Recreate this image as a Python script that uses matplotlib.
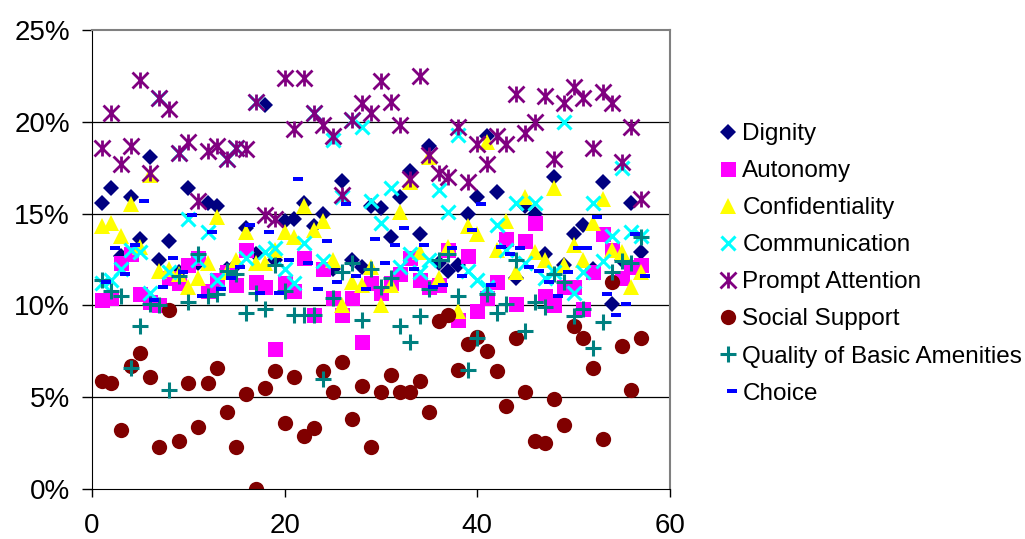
import numpy as np
import matplotlib.pyplot as plt
from matplotlib.path import Path
from matplotlib.ticker import FuncFormatter

plt.rcParams['font.family'] = ['Liberation Sans', 'DejaVu Sans']

# survey item scores (%) for each of the 57 facilities
facility = list(range(1, 58))

dignity = [15.6, 16.4, 12.7, 15.9, 13.6, 18.1, 12.5, 13.5, 11.8, 16.4,
           12.3, 15.6, 15.4, 12.0, 12.2, 14.2, 12.8, 20.9, 12.5, 14.6,
           14.7, 15.6, 14.3, 15.0, 12.0, 16.8, 12.5, 12.1, 15.4, 15.3,
           13.7, 15.9, 17.3, 13.9, 18.7, 12.3, 11.9, 12.2, 15.0, 15.9,
           19.2, 16.2, 13.5, 11.5, 15.4, 15.0, 12.8, 17.0, 12.2, 13.9,
           14.4, 12.0, 16.7, 10.1, 12.5, 15.6, 12.9]
autonomy = [10.3, 10.4, 12.3, 12.8, 10.6, 10.2, 10.0, 11.5, 11.2, 12.2,
            12.6, 10.8, 11.4, 11.8, 11.1, 13.0, 11.3, 11.0, 7.6, 11.2,
            10.8, 12.6, 9.5, 12.0, 10.4, 9.5, 10.4, 8.0, 11.2, 10.7,
            11.2, 11.7, 12.6, 11.4, 11.0, 11.1, 13.0, 9.2, 12.7, 9.7,
            10.4, 11.3, 13.6, 10.1, 13.5, 14.5, 10.5, 10.0, 11.0, 11.0,
            9.8, 11.8, 13.9, 13.0, 11.5, 12.1, 12.2]
confidentiality = [14.3, 14.5, 13.8, 15.5, 13.2, 17.1, 11.9, 12.0, 11.7, 11.0,
                   11.5, 12.3, 14.8, 11.8, 12.5, 14.0, 12.3, 12.3, 13.0, 14.0,
                   13.7, 15.4, 14.1, 14.6, 12.5, 10.0, 11.3, 11.1, 12.1, 10.0,
                   11.1, 15.1, 16.7, 12.9, 18.1, 11.5, 13.2, 9.7, 14.3, 13.9,
                   18.9, 13.0, 14.6, 11.8, 15.9, 12.9, 12.5, 16.4, 12.2, 13.3,
                   12.5, 14.5, 15.8, 13.0, 12.9, 11.0, 11.8]
communication = [11.2, 11.4, 12.0, 13.0, 12.9, 10.7, 21.3, 11.8, 18.3, 14.7,
                 12.5, 14.0, 11.4, 18.0, 18.6, 12.6, 21.1, 12.9, 13.1, 12.0,
                 11.2, 13.4, 20.5, 12.4, 19.0, 15.9, 20.1, 19.7, 15.7, 14.5,
                 16.4, 12.1, 12.8, 11.8, 12.5, 16.3, 15.1, 19.3, 11.9, 11.4,
                 11.0, 14.4, 13.0, 15.6, 12.3, 15.6, 11.5, 11.8, 20.0, 10.7,
                 11.8, 15.6, 12.4, 13.8, 17.5, 14.0, 13.8]
prompt_attention = [18.6, 20.5, 17.7, 18.7, 22.3, 17.2, 21.3, 20.7, 18.3, 18.9,
                    15.7, 18.4, 18.7, 18.0, 18.6, 18.5, 21.1, 14.9, 14.7, 22.4,
                    19.6, 22.4, 20.5, 19.8, 19.2, 16.0, 20.1, 21.0, 20.5, 22.2,
                    21.1, 19.8, 16.9, 22.5, 18.2, 17.2, 17.0, 19.7, 16.7, 18.8,
                    17.7, 19.2, 18.8, 21.5, 19.4, 20.0, 21.4, 18.0, 21.0, 21.9,
                    21.3, 18.6, 21.6, 21.0, 17.8, 19.7, 15.8]
social_support = [5.9, 5.8, 3.2, 6.7, 7.4, 6.1, 2.3, 9.75, 2.6, 5.8,
                  3.4, 5.8, 6.6, 4.2, 2.3, 5.2, 0.0, 5.5, 6.4, 3.6,
                  6.1, 2.9, 3.3, 6.4, 5.3, 6.9, 3.8, 5.6, 2.3, 5.3,
                  6.2, 5.3, 5.3, 5.9, 4.2, 9.15, 9.5, 6.5, 7.9, 8.3,
                  7.5, 6.4, 4.5, 8.2, 5.3, 2.6, 2.5, 4.9, 3.5, 8.9,
                  8.2, 6.6, 2.7, 11.3, 7.8, 5.4, 8.2]
amenities = [11.4, 10.8, 10.5, 6.6, 8.9, 10.1, 10.0, 5.4, 11.6, 10.2,
             12.8, 10.5, 10.6, 11.9, 11.7, 9.6, 10.7, 9.8, 12.2, 10.8,
             9.5, 9.5, 9.5, 6.0, 10.4, 11.8, 12.3, 9.2, 12.0, 11.0,
             11.5, 8.9, 8.0, 9.4, 10.9, 12.5, 12.8, 10.5, 6.5, 8.2,
             10.6, 9.6, 10.1, 12.5, 8.6, 10.2, 9.9, 11.7, 11.3, 9.4,
             9.8, 7.7, 9.1, 11.8, 12.4, 12.3, 13.7]
choice = [11.3, 13.1, 11.7, 13.3, 15.7, 10.3, 11.0, 12.6, 11.8, 14.9,
          10.5, 14.0, 10.9, 11.5, 12.1, 14.4, 10.7, 14.0, 10.7, 12.5,
          16.9, 12.3, 10.9, 13.5, 11.3, 15.5, 11.6, 10.9, 13.6, 12.3,
          13.3, 14.2, 12.0, 13.3, 11.0, 11.1, 13.1, 11.6, 14.1, 15.5,
          11.1, 13.2, 12.8, 13.1, 12.1, 11.9, 11.3, 10.5, 11.8, 13.1,
          13.1, 14.8, 10.6, 9.5, 10.1, 13.9, 11.6]

# excel-like markers: asterisk = X plus a vertical bar, dash sits a bit right
star = Path([(0, -1), (0, 1), (-1, -1), (1, 1), (-1, 1), (1, -1)],
            [Path.MOVETO, Path.LINETO, Path.MOVETO, Path.LINETO, Path.MOVETO, Path.LINETO])
dash = Path([(-0.1, -0.2), (0.9, -0.2), (0.9, 0.2), (-0.1, 0.2), (-0.1, -0.2)],
            [Path.MOVETO, Path.LINETO, Path.LINETO, Path.LINETO, Path.CLOSEPOLY])

fig = plt.figure(figsize=(10.25, 5.39), dpi=100)
ax = fig.add_axes([92/1025, 1-489/539, (670-92)/1025, (489-30)/539])

ax.plot(facility, dignity, 'D', color='#000080', ms=8.3, mew=0, label='Dignity')
ax.plot(facility, autonomy, 's', color='#FF00FF', ms=10.8, mew=0, label='Autonomy')
ax.plot(facility, confidentiality, '^', color='#FFFF00', ms=11.8, mew=0, label='Confidentiality')
ax.plot(facility, communication, 'x', color='#00FFFF', ms=10.5, mew=2.2, label='Communication')
ax.plot(facility, prompt_attention, marker=star, ls='none', color='#800080', ms=11.5, mew=2,
        label='Prompt Attention')
ax.plot(facility, social_support, 'o', color='#800000', ms=11, mew=0, label='Social Support')
ax.plot(facility, amenities, '+', color='#008080', ms=11, mew=2.2, label='Quality of Basic Amenities')
ax.plot(facility, choice, marker=dash, ls='none', color='#0000FF', ms=13, mew=0, label='Choice')

ax.set_xlim(0, 60)
ax.set_ylim(0, 25)
ax.set_xticks([0, 20, 40, 60])
ax.set_yticks([0, 5, 10, 15, 20, 25])
ax.yaxis.set_major_formatter(FuncFormatter(lambda v, p: '%d%%' % v))
ax.tick_params(axis='y', direction='out', length=7, width=1, pad=9, labelsize=20)
ax.tick_params(axis='x', direction='out', length=6, width=1, pad=11, labelsize=20)

for v in [5, 10, 15, 20]:
    ax.axhline(v, color='black', lw=0.9, zorder=0)

ax.spines['left'].set_color('black')
ax.spines['bottom'].set_color('black')
ax.spines['top'].set_color('#808080')
ax.spines['right'].set_color('#808080')
ax.spines['top'].set_linewidth(1.5)
ax.spines['right'].set_linewidth(1.5)

fig.legend(loc='upper left', bbox_to_anchor=(718/1025, 1-123/539), frameon=False,
           fontsize=17.5, numpoints=1, handlelength=0.8, handletextpad=0.2,
           labelspacing=0.62, borderpad=0, borderaxespad=0)

plt.savefig('out.png', dpi=100)
